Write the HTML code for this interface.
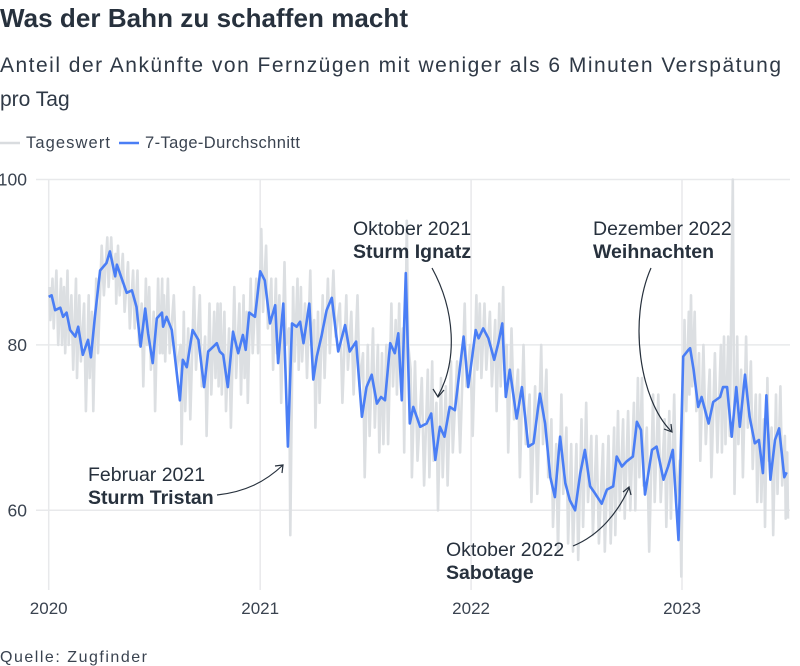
<!DOCTYPE html>
<html><head><meta charset="utf-8"><style>
html,body{margin:0;padding:0;background:#fff;}
svg{display:block;font-family:"Liberation Sans",sans-serif;}
</style></head><body>
<svg id="chart" width="800" height="666" viewBox="0 0 800 666">
<text x="0" y="27" font-size="26" font-weight="bold" fill="#27313d" textLength="408">Was der Bahn zu schaffen macht</text>
<text x="0" y="72" font-size="21" fill="#2f3946" textLength="781">Anteil der Ankünfte von Fernzügen mit weniger als 6 Minuten Verspätung</text>
<text x="0" y="106" font-size="21" fill="#2f3946">pro Tag</text>
<g>
<line x1="0" y1="143" x2="20" y2="143" stroke="#d9dcdf" stroke-width="2.5"/>
<text x="26" y="148" font-size="16.5" fill="#3a4350" textLength="84">Tageswert</text>
<line x1="119" y1="143" x2="139" y2="143" stroke="#4a7ef5" stroke-width="2.5"/>
<text x="145" y="148" font-size="16.5" fill="#3a4350" textLength="155">7-Tage-Durchschnitt</text>
</g>
<g id="grid"></g>
<g id="gray"></g>
<g id="blue"></g>
<g id="ann" fill="#27313d" font-size="19.5">
<text x="353" y="235">Oktober 2021</text>
<text x="353" y="258" font-weight="bold">Sturm Ignatz</text>
<path d="M432,268 C455,310 458,360 438,396" fill="none" stroke="#27313d" stroke-width="1.2"/>
<path d="M433,389 L438,397 L444,390" fill="none" stroke="#27313d" stroke-width="1.2"/>
<text x="593" y="235">Dezember 2022</text>
<text x="593" y="258" font-weight="bold">Weihnachten</text>
<path d="M651,268 C628,320 640,400 671,431" fill="none" stroke="#27313d" stroke-width="1.2"/>
<path d="M664,429 L672,432 L671,424" fill="none" stroke="#27313d" stroke-width="1.2"/>
<text x="88" y="481">Februar 2021</text>
<text x="88" y="504" font-weight="bold">Sturm Tristan</text>
<path d="M217,495 C245,492 265,482 283,465" fill="none" stroke="#27313d" stroke-width="1.2"/>
<path d="M275,466 L283,465 L282,473" fill="none" stroke="#27313d" stroke-width="1.2"/>
<text x="446" y="556">Oktober 2022</text>
<text x="446" y="579" font-weight="bold">Sabotage</text>
<path d="M573,546 C600,535 618,512 629,488" fill="none" stroke="#27313d" stroke-width="1.2"/>
<path d="M623,492 L629,487 L631,495" fill="none" stroke="#27313d" stroke-width="1.2"/>
</g>
<text x="0" y="662" font-size="16" fill="#3a4350" textLength="147">Quelle: Zugfinder</text>
</svg>
<script>
// day offsets since 2020-01-01
const days=[0,5,11,20,25,31,37,46,51,59,68,73,80,89,100,106,115,118,126,135,144,152,159,167,172,180,187,196,198,204,213,227,232,239,249,259,269,276,285,291,296,302,310,319,328,336,341,347,357,366,374,383,392,397,406,414,421,429,435,441,451,458,464,472,481,490,501,513,521,532,542,550,559,568,575,582,591,599,605,611,618,625,631,643,654,662,669,677,685,694,703,718,726,739,744,752,761,771,778,785,791,798,810,819,830,839,850,859,868,876,885,894,902,911,920,928,937,945,957,966,977,983,992,1000,1011,1018,1025,1032,1044,1052,1064,1072,1080,1090,1098,1107,1110,1116,1124,1130,1142,1150,1162,1167,1174,1182,1190,1196,1205,1213,1222,1229,1236,1242,1249,1257,1264,1273,1277];
const avg=[85.8,86,84.2,84.5,83.4,83.9,81.8,81,82.2,78.8,80.6,78.5,83.4,89,89.9,91.3,88.3,89.7,88.1,86.3,86.6,84.6,79.8,84.4,81.4,77.8,83.2,83.9,82.2,83.4,81.8,73.3,78.2,77.3,81.8,80.6,74.9,79.2,79.8,80.2,79.2,78.8,74.9,81.6,79,81.2,79.4,83.9,83.4,88.9,87.8,82.6,84.8,77.8,85,67.7,82.6,82.2,82.8,80.2,85,75.8,78.6,81,84.2,85.7,79.2,82.4,79.2,80.4,71.3,74.9,76.4,72.9,73.7,73.3,80.2,79,81.4,73.3,88.7,70.5,72.5,70.1,70.5,71.7,66.1,70.1,68.9,72.5,72.1,81,74.9,81.8,80.8,82,80.8,78.2,80.2,82.6,73.7,77,71.1,74.9,67.7,68.1,74.1,70.5,64,61.6,68.9,63.3,61.2,60,64.5,67.3,62.9,62.1,60.8,62.5,62.9,66.5,65.3,65.9,66.5,70.7,69.7,61.9,67.3,67.7,63.7,65.3,67.3,56.4,78.6,79.4,79.6,77,72.5,73.7,70.5,73.1,73.7,74.9,74.9,68.9,74.9,70.1,76.4,71.3,68.1,68.5,64.5,73.9,63.7,68.5,69.9,64,64.6];
const dailyHi=[87,88,89,88,87,89,86,88,86,85,86,84,88,92,93,93,91,92,91,90,89,89,85,88,87,84,88,88,86,88,86,80,84,82,87,86,81,85,84,85,85,84,82,87,85,86,84,88,88,94,92,88,88,86,90,82,87,88,87,85,89,83,84,86,88,89,85,86,84,86,79,80,82,80,79,80,85,83,85,82,95,77,78,76,77,78,73,76,75,78,78,85,80,86,85,85,84,83,85,87,80,82,77,80,74,75,80,77,71,68,74,70,68,68,71,73,69,69,68,69,70,72,71,72,73,76,76,70,74,74,71,72,74,66,83,84,86,84,79,80,77,79,80,81,81,100,81,77,81,78,74,74,71,76,70,74,75,69,67];
const dailyLo=[83,82,80,80,79,80,77,76,78,72,76,72,79,86,87,88,85,86,84,82,82,80,75,80,77,72,79,79,78,79,77,68,72,71,77,75,69,74,76,75,74,72,70,76,74,76,73,79,79,84,82,77,79,73,80,57,78,77,78,76,80,70,73,76,79,81,73,77,74,75,64,69,70,67,68,68,75,74,77,67,80,64,66,63,64,66,60,64,63,67,67,75,69,77,76,77,75,72,75,77,67,71,64,68,61,62,68,64,58,55,62,56,55,54,58,61,57,56,55,56,57,60,59,60,60,64,63,55,61,61,58,59,61,52,72,74,75,72,66,68,64,67,67,68,69,62,68,64,70,65,61,61,58,66,57,62,63,59,59];
const xTicks=[0,366,731,1096];
const xTickLabels=["2020","2021","2022","2023"];
const yTicks=[60,80,100];

const NS="http://www.w3.org/2000/svg";
const X0=48.7, PXD=(682-48.7)/1096, YTOP=179.5, PXU=8.27;
function xs(d){return X0+d*PXD;}
function ys(v){return YTOP+(100-v)*PXU;}
function mk(tag,attrs,parent){const e=document.createElementNS(NS,tag);for(const k in attrs)e.setAttribute(k,attrs[k]);parent.appendChild(e);return e;}
const grid=document.getElementById('grid');
yTicks.forEach(t=>{
  const l=mk('line',{x1:36,x2:790,y1:ys(t),y2:ys(t),stroke:'#e8e9eb','stroke-width':1.5},grid);
  
  
  const tx=mk('text',{x:27,y:ys(t)+6,'text-anchor':'end','font-size':17.5,fill:'#3a4350'},grid);
  tx.textContent=t;
  
  
});
xTicks.forEach((d,i)=>{
  const l=mk('line',{x1:xs(d),x2:xs(d),y1:YTOP,y2:590,stroke:'#e8e9eb','stroke-width':1.5},grid);
  
  
  const tx=mk('text',{x:xs(d),y:614,'text-anchor':'middle','font-size':17,fill:'#3a4350'},grid);
  tx.textContent=xTickLabels[i];
  
  
});
let gp='';
for(let i=0;i<days.length;i++){
  const d0=days[i], d1=i+1<days.length?days[i+1]:days[i]+4;
  const span=d1-d0;
  const p1=`${xs(d0+span*0.25).toFixed(1)},${ys(dailyHi[i]).toFixed(1)}`;
  const p2=`${xs(d0+span*0.6).toFixed(1)},${ys(dailyLo[i]).toFixed(1)}`;
  gp+=(i===0?'M':'L')+p1+'L'+p2;
}
const gpath=mk('path',{d:gp,fill:'none',stroke:'#dcdfe2','stroke-width':2.6,'stroke-linejoin':'round'},document.getElementById('gray'));


let bp='';
days.forEach((d,i)=>{bp+=(i?'L':'M')+xs(d).toFixed(1)+','+ys(avg[i]).toFixed(1);});
const bpath=mk('path',{d:bp,fill:'none',stroke:'#4a7ef5','stroke-width':2.6,'stroke-linejoin':'round'},document.getElementById('blue'));


</script>
</body></html>
